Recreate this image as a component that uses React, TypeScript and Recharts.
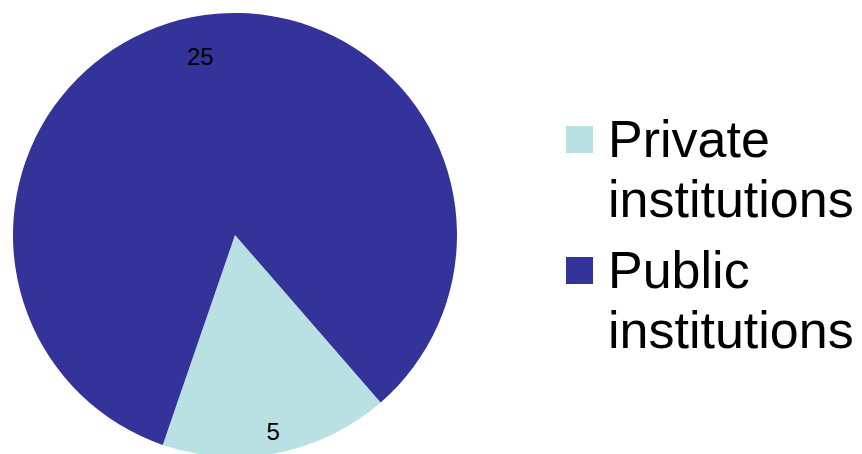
import React from 'react';
import { PieChart, Pie, Cell, Legend } from 'recharts';

const CATEGORIES = ['Private institutions', 'Public institutions'];
const VALUES = [5, 25];
const COLORS = ['#B9E0E3', '#343399'];
const LEGEND_LINES = [['Private', 'institutions'], ['Public', 'institutions']];

const data = CATEGORIES.map((name, i) => ({ name, value: VALUES[i] }));

const FONT = 'Arial, "Liberation Sans", Helvetica, sans-serif';
const RADIAN = Math.PI / 180;

const renderLabel = (props: any) => {
  const { cx, cy, midAngle, outerRadius, value, index } = props;
  const r = outerRadius * (index === 0 ? 0.9 : 0.82);
  const x = cx + r * Math.cos(-midAngle * RADIAN);
  const y = cy + r * Math.sin(-midAngle * RADIAN);
  return (
    <text
      x={x}
      y={y}
      textAnchor="middle"
      dominantBaseline="central"
      fill="#000000"
      style={{ fontFamily: FONT, fontSize: 24 }}
    >
      {value}
    </text>
  );
};

const LegendContent: React.FC<any> = () => (
  <div style={{ fontFamily: FONT, fontSize: 52, lineHeight: '60px', color: '#000' }}>
    {LEGEND_LINES.map((lines, i) => (
      <div key={i} style={{ position: 'relative', paddingLeft: 42, marginBottom: i === 0 ? 11 : 0 }}>
        <div
          style={{
            position: 'absolute',
            left: 0,
            top: 17,
            width: 27,
            height: 27,
            background: COLORS[i],
          }}
        />
        {lines.map((l, j) => (
          <div key={j} style={{ whiteSpace: 'nowrap' }}>{l}</div>
        ))}
      </div>
    ))}
  </div>
);

export default function App() {
  return (
    <div style={{ position: 'absolute', left: 0, top: 0, width: 862, height: 454, background: '#fff' }}>
      <PieChart width={862} height={454} margin={{ top: 0, right: 0, bottom: 0, left: 0 }}>
        <Pie
          data={data}
          dataKey="value"
          nameKey="name"
          cx={235}
          cy={235}
          outerRadius={222}
          startAngle={-49}
          endAngle={-409}
          stroke="none"
          label={renderLabel}
          labelLine={false}
          isAnimationActive={false}
        >
          {data.map((d, i) => (
            <Cell key={d.name} fill={COLORS[i]} />
          ))}
        </Pie>
        <Legend
          content={<LegendContent />}
          wrapperStyle={{ position: 'absolute', left: 566, top: 109, width: 296, right: 'auto', bottom: 'auto' }}
        />
      </PieChart>
    </div>
  );
}
